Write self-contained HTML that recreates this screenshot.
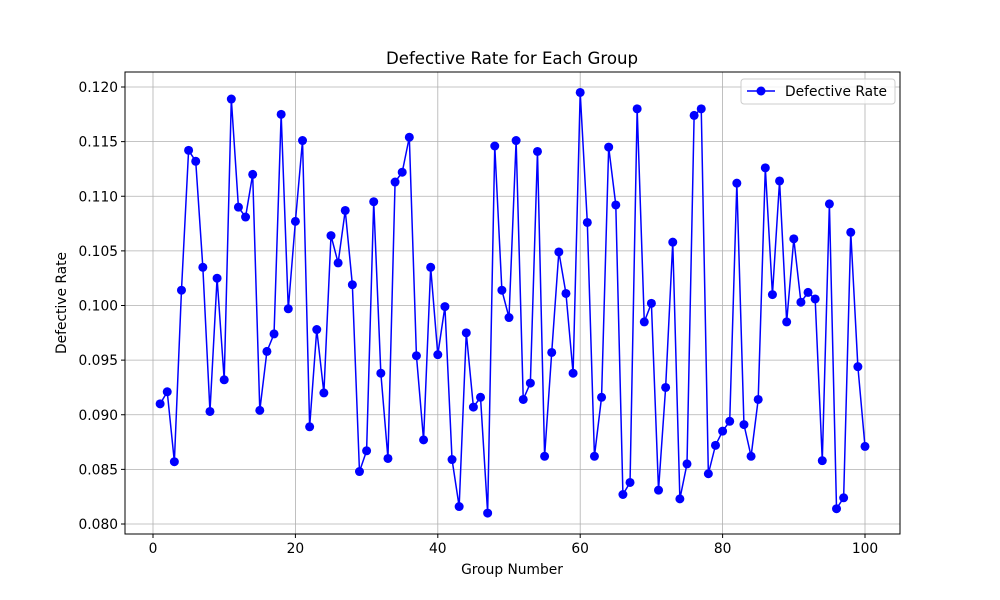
<!DOCTYPE html>
<html><head><meta charset="utf-8"><style>
body{margin:0;background:#fff;}
svg{display:block;font-family:"DejaVu Sans","Liberation Sans",sans-serif;}
</style></head><body>
<svg id="chart" width="1000" height="600" viewBox="0 0 1000 600">
<rect x="0" y="0" width="1000" height="600" fill="#fff"/>
<g id="grid"></g>
<g id="series"></g>
<rect x="125" y="72" width="775" height="462" fill="none" stroke="#000" stroke-width="1"/>
<g id="xt"></g>
<g id="yt"></g>
<text x="512" y="64" text-anchor="middle" font-size="16.6">Defective Rate for Each Group</text>
<text x="512" y="574" text-anchor="middle" font-size="13.8">Group Number</text>
<text transform="translate(66,303) rotate(-90)" text-anchor="middle" font-size="13.8">Defective Rate</text>
<g>
<rect x="741" y="79" width="154" height="25" fill="#fff" fill-opacity="0.8" stroke="#ccc" rx="3"/>
<line x1="747" y1="91" x2="775" y2="91" stroke="#0000ff" stroke-width="1.5"/>
<circle cx="761" cy="91" r="4.5" fill="#0000ff"/>
<text x="785" y="96" font-size="13.8">Defective Rate</text>
</g>
</svg>
<script>
const groups = Array.from({length:100},(_,i)=>i+1);
const rates = [0.0910,0.0921,0.0857,0.1014,0.1142,0.1132,0.1035,0.0903,0.1025,0.0932,
0.1189,0.1090,0.1081,0.1120,0.0904,0.0958,0.0974,0.1175,0.0997,0.1077,
0.1151,0.0889,0.0978,0.0920,0.1064,0.1039,0.1087,0.1019,0.0848,0.0867,
0.1095,0.0938,0.0860,0.1113,0.1122,0.1154,0.0954,0.0877,0.1035,0.0955,
0.0999,0.0859,0.0816,0.0975,0.0907,0.0916,0.0810,0.1146,0.1014,0.0989,
0.1151,0.0914,0.0929,0.1141,0.0862,0.0957,0.1049,0.1011,0.0938,0.1195,
0.1076,0.0862,0.0916,0.1145,0.1092,0.0827,0.0838,0.1180,0.0985,0.1002,
0.0831,0.0925,0.1058,0.0823,0.0855,0.1174,0.1180,0.0846,0.0872,0.0885,
0.0894,0.1112,0.0891,0.0862,0.0914,0.1126,0.1010,0.1114,0.0985,0.1061,
0.1003,0.1012,0.1006,0.0858,0.1093,0.0814,0.0824,0.1067,0.0944,0.0871];
const xTicks = [0,20,40,60,80,100];
const yTicks = [0.080,0.085,0.090,0.095,0.100,0.105,0.110,0.115,0.120];
const NS="http://www.w3.org/2000/svg";
const X = v => 153 + (v-0)*7.12;
const Y = v => 524 - (v-0.080)/0.040*437;
function mk(tag, attrs, parent){const e=document.createElementNS(NS,tag);for(const k in attrs)e.setAttribute(k,attrs[k]);parent.appendChild(e);return e;}
const grid=document.getElementById('grid'),xt=document.getElementById('xt'),yt=document.getElementById('yt'),ser=document.getElementById('series');
xTicks.forEach(t=>{
  const g=mk('line',{x1:X(t),x2:X(t),y1:72,y2:534,stroke:'#b0b0b0','stroke-width':0.8},grid);
  
  
  mk('line',{x1:X(t),x2:X(t),y1:534,y2:538,stroke:'#000'},xt);
  const l=mk('text',{x:X(t),y:553,'text-anchor':'middle','font-size':13.8},xt);
  
  
  l.textContent=t;
});
yTicks.forEach(t=>{
  const g=mk('line',{x1:125,x2:900,y1:Y(t),y2:Y(t),stroke:'#b0b0b0','stroke-width':0.8},grid);
  
  
  mk('line',{x1:121,x2:125,y1:Y(t),y2:Y(t),stroke:'#000'},yt);
  const l=mk('text',{x:118,y:Y(t)+5,'text-anchor':'end','font-size':13.8},yt);
  
  
  l.textContent=t.toFixed(3);
});
const pts=groups.map((g,i)=>X(g)+','+Y(rates[i])).join(' ');
const pl=mk('polyline',{points:pts,fill:'none',stroke:'#0000ff','stroke-width':1.5},ser);


groups.forEach((g,i)=>{
  const c=mk('circle',{cx:X(g),cy:Y(rates[i]),r:4.5,fill:'#0000ff'},ser);
  
  
});
</script>
</body></html>
